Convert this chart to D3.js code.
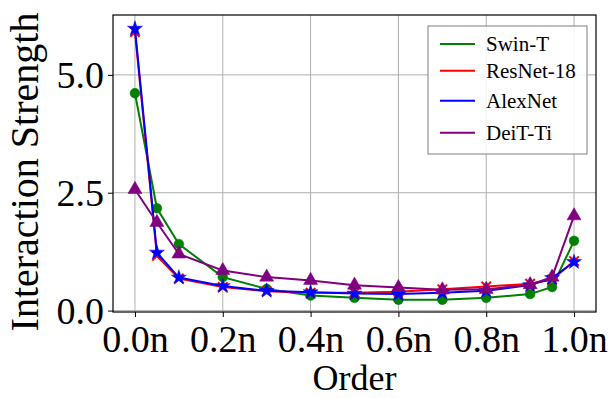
<!DOCTYPE html>
<html><head><meta charset="utf-8">
<script src="https://cdn.jsdelivr.net/npm/d3@7"></script>
<style>body{margin:0;background:#fff}svg{display:block}</style>
</head><body><svg id="c" width="613" height="398"></svg>
<script>
const orders = [0, 0.05, 0.1, 0.2, 0.3, 0.4, 0.5, 0.6, 0.7, 0.8, 0.9, 0.95, 1.0];
const swinT = [4.61, 2.17, 1.41, 0.71, 0.46, 0.32, 0.27, 0.23, 0.23, 0.27, 0.35, 0.50, 1.48];
const resnet18 = [5.91, 1.16, 0.68, 0.50, 0.41, 0.38, 0.38, 0.40, 0.45, 0.51, 0.57, 0.66, 1.05];
const alexnet = [5.98, 1.23, 0.70, 0.52, 0.42, 0.39, 0.36, 0.35, 0.38, 0.42, 0.54, 0.69, 1.03];
const deitTi = [2.57, 1.87, 1.20, 0.85, 0.71, 0.64, 0.54, 0.49, 0.44, 0.45, 0.55, 0.71, 2.01];
const seriesNames = ["Swin-T", "ResNet-18", "AlexNet", "DeiT-Ti"];
const seriesColors = ["green", "red", "blue", "purple"];
const xTicks = [0, 0.2, 0.4, 0.6, 0.8, 1.0];
const xTickLabels = ["0.0n", "0.2n", "0.4n", "0.6n", "0.8n", "1.0n"];
const yTicks = [0, 2.5, 5.0];
const yTickLabels = ["0.0", "2.5", "5.0"];

const series = [
  {name: seriesNames[0], color: seriesColors[0], values: swinT, sym: d3.symbolCircle, size: 75, fill: true},
  {name: seriesNames[1], color: seriesColors[1], values: resnet18, sym: d3.symbolTimes, size: 60, fill: false},
  {name: seriesNames[2], color: seriesColors[2], values: alexnet, sym: d3.symbolStar, size: 70, fill: true},
  {name: seriesNames[3], color: seriesColors[3], values: deitTi, sym: d3.symbolTriangle, size: 85, fill: true}
];

const svg = d3.select("#c");
const L = 113, R = 596, T = 15, B = 312;
const x = d3.scaleLinear().domain([-0.05, 1.05]).range([L, R]);
const y = d3.scaleLinear().domain([-0.03, 6.27]).range([B, T]);
const font = "'Liberation Serif', 'Times New Roman', serif";

// grid
const g = svg.append("g");
g.selectAll(".gx").data(xTicks).join("line")
  .attr("x1", d => x(d)).attr("x2", d => x(d)).attr("y1", T).attr("y2", B)
  .attr("stroke", "#b0b0b0").attr("stroke-width", 1);
g.selectAll(".gy").data(yTicks).join("line")
  .attr("y1", d => y(d)).attr("y2", d => y(d)).attr("x1", L).attr("x2", R)
  .attr("stroke", "#b0b0b0").attr("stroke-width", 1);

// axes
const xAxis = d3.axisBottom(x).tickValues(xTicks).tickFormat((d, i) => xTickLabels[i]).tickSize(5).tickPadding(6);
const yAxis = d3.axisLeft(y).tickValues(yTicks).tickFormat((d, i) => yTickLabels[i]).tickSize(5).tickPadding(4);
const ax = svg.append("g").attr("transform", `translate(0,${B})`).call(xAxis);
const ay = svg.append("g").attr("transform", `translate(${L},0)`).call(yAxis);
[ax, ay].forEach(a => {
  a.select(".domain").remove();
  a.selectAll(".tick line").attr("stroke", "#000").attr("stroke-width", 1);
  a.selectAll(".tick text").attr("font-family", font).attr("font-size", 38).attr("fill", "#000");
});
ax.selectAll(".tick text").attr("dy", "0.75em");
ay.selectAll(".tick text").attr("dy", "0.33em");

// lines and markers
const line = d3.line().x((d, i) => x(orders[i])).y(d => y(d));
series.forEach(s => {
  svg.append("path").datum(s.values).attr("d", line)
    .attr("fill", "none").attr("stroke", s.color).attr("stroke-width", 2);
  svg.selectAll(null).data(s.values).join("path")
    .attr("transform", (d, i) => `translate(${x(orders[i])},${y(d)})`)
    .attr("d", d3.symbol().type(s.sym).size(s.size))
    .attr("fill", s.fill ? s.color : "none")
    .attr("stroke", s.color).attr("stroke-width", s.fill ? 0.5 : 2);
});

// spines
svg.append("rect").attr("x", L).attr("y", T).attr("width", R - L).attr("height", B - T)
  .attr("fill", "none").attr("stroke", "#000").attr("stroke-width", 1.2);

// legend
const lg = svg.append("g");
lg.append("rect").attr("x", 428).attr("y", 26).attr("width", 159).attr("height", 128)
  .attr("fill", "#fff").attr("fill-opacity", 0.85).attr("stroke", "#808080").attr("stroke-width", 1);
const rowsY = [44, 70.7, 100.7, 132.7];
series.forEach((s, i) => {
  lg.append("line").attr("x1", 440).attr("x2", 475).attr("y1", rowsY[i]).attr("y2", rowsY[i])
    .attr("stroke", s.color).attr("stroke-width", 2);
  lg.append("text").attr("x", 486).attr("y", rowsY[i]).attr("dy", "0.33em")
    .attr("font-family", font).attr("font-size", 21).attr("fill", "#000").text(s.name);
});

// axis labels
svg.append("text").attr("x", (L + R) / 2).attr("y", 390).attr("text-anchor", "middle")
  .attr("font-family", font).attr("font-size", 36).attr("fill", "#000").text("Order");
svg.append("text").attr("transform", `translate(38,172) rotate(-90)`).attr("text-anchor", "middle")
  .attr("font-family", font).attr("font-size", 40).attr("fill", "#000").text("Interaction Strength");
</script></body></html>
